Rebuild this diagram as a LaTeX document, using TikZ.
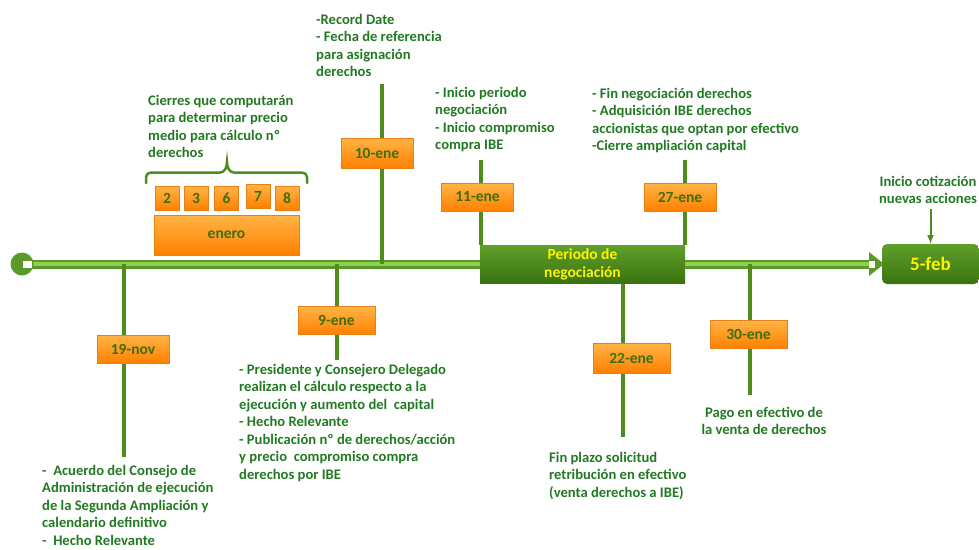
\documentclass[tikz,border=0pt]{standalone}
\usepackage{fontspec}
\setmainfont{Carlito}
\usetikzlibrary{positioning}
\definecolor{txtgreen}{HTML}{217A21}
\definecolor{stemgreen}{HTML}{4E8C1E}
\definecolor{axisdark}{HTML}{5A9A2A}
\definecolor{axislight}{HTML}{8FD14F}
\definecolor{boxtop}{HTML}{FFB445}
\definecolor{boxbot}{HTML}{FF8000}
\definecolor{boxedge}{HTML}{E8801A}
\definecolor{boxtxt}{HTML}{3F6F10}
\definecolor{negtop}{HTML}{5FA02A}
\definecolor{negbot}{HTML}{3A7310}

\begin{document}
\begin{tikzpicture}[x=1pt,y=-1pt,
  txt/.style={text=txtgreen,font=\bfseries\fontsize{14.6}{17.5}\selectfont,align=left,inner sep=0pt},
  datebox/.style={draw=boxedge,top color=boxtop,bottom color=boxbot,text=boxtxt,
    font=\bfseries\fontsize{15.5}{18}\selectfont,minimum width=72pt,minimum height=28pt,inner sep=0pt},
  daybox/.style={datebox,minimum width=24pt,minimum height=24pt},
  stem/.style={draw=stemgreen,line width=4pt},
  greenbox/.style={top color=negtop,bottom color=negbot,text=yellow,align=center,inner sep=0pt}]
  \useasboundingbox (0,0) rectangle (979,549);

  % main time line
  \coordinate (axl) at (30,264);
  \coordinate (axr) at (871,264);
  \draw[line width=9pt,axisdark] (axl) -- (axr);
  \draw[line width=4pt,axislight] (axl) -- (axr);
  \node[circle,fill=axisdark,minimum size=23pt,inner sep=0pt] (start) at (22,264) {};
  \fill[white] (23,260.5) rectangle (32,267.5);
  \fill[axisdark] (869,252) -- (884,264) -- (869,276) -- cycle;
  \fill[white] (869,260.5) rectangle (875,267.5);

  % stems
  \coordinate (s19a) at (124,264); \coordinate (s19b) at (124,457);
  \coordinate (s9a) at (337,264);  \coordinate (s9b) at (337,360);
  \coordinate (s10a) at (382,84);  \coordinate (s10b) at (382,264);
  \coordinate (s11) at (481,160);
  \coordinate (s27) at (685,160);
  \coordinate (s22a) at (623,283); \coordinate (s22b) at (623,437);
  \coordinate (s30a) at (750,264); \coordinate (s30b) at (750,395);
  \draw[stem] (s19a) -- (s19b);
  \draw[stem] (s9a) -- (s9b);
  \draw[stem] (s10a) -- (s10b);
  \draw[stem] (s22a) -- (s22b);
  \draw[stem] (s30a) -- (s30b);

  \node[greenbox,minimum width=205pt,minimum height=38pt,font=\bfseries\fontsize{15.5}{18}\selectfont] (neg) at (582.5,264) {Periodo de\\negociación};
  \draw[stem] (s11) -- (s11 |- neg.north);
  \draw[stem] (s27) -- (s27 |- neg.north);
  \node[greenbox,rounded corners=5pt,minimum width=97pt,minimum height=40pt,font=\bfseries\fontsize{19}{22}\selectfont] (feb) at (930.5,264) {5-feb};

  % date boxes
  \node[datebox] (nov19) at (133,349) {19-nov};
  \node[datebox,minimum width=77pt] (ene9) at (336.5,320.5) {9-ene};
  \node[datebox,minimum height=30pt] (ene10) at (377,153) {10-ene};
  \node[datebox] (ene11) at (477.5,197) {11-ene};
  \node[datebox,minimum width=77pt,minimum height=30pt] (ene22) at (631.5,358) {22-ene};
  \node[datebox] (ene27) at (680,197) {27-ene};
  \node[datebox,minimum width=77pt] (ene30) at (748.5,334) {30-ene};

  % closing days
  \foreach \d/\x/\y in {2/167/198,3/196/198,6/226.5/198,7/258/196,8/287/198}
    \node[daybox] (d\d) at (\x,\y) {\d};
  \node[datebox,minimum width=145pt,minimum height=40pt] (enero) at (226.5,235) {enero};
  \draw[stemgreen,line width=2.5pt,line cap=round]
    (146,183) -- (146,177) to[out=90,in=180] (151,172.5) -- (220,172.5)
    to[out=0,in=-90] (227,162) to[out=-90,in=180] (234,172.5) -- (302,172.5)
    to[out=0,in=90] (307,177) -- (307,183);

  % texts
  \node[txt,anchor=north west] (cierres) at (148,95) {Cierres que computarán\\para determinar precio\\medio para cálculo nº\\derechos};
  \node[txt,anchor=north west] (record) at (316,14) {-Record Date\\- Fecha de referencia\\para asignación\\derechos};
  \node[txt,anchor=north west] (inicio) at (435,87) {- Inicio periodo\\negociación\\- Inicio compromiso\\compra IBE};
  \node[txt,anchor=north west] (fin) at (592,88) {- Fin negociación derechos\\- Adquisición IBE derechos\\accionistas que optan por efectivo\\-Cierre ampliación capital};
  \node[txt,align=center] (cot) at (928,190) {Inicio cotización\\nuevas acciones};
  \node[txt,anchor=north west] (acuerdo) at (42,465) {-\ \ Acuerdo del Consejo de\\Administración de ejecución\\de la Segunda Ampliación y\\calendario definitivo\\-\ \ Hecho Relevante};
  \node[txt,anchor=north west] (calculo) at (239,364) {- Presidente y Consejero Delegado\\realizan el cálculo respecto a la\\ejecución y aumento del\ \ capital\\- Hecho Relevante\\- Publicación nº de derechos/acción\\y precio\ \ compromiso compra\\derechos por IBE};
  \node[txt,anchor=north west] (plazo) at (549,452) {Fin plazo solicitud\\retribución en efectivo\\(venta derechos a IBE)};
  \node[txt,align=center] (pago) at (764,421) {Pago en efectivo de\\la venta de derechos};

  \draw[-latex,stemgreen,line width=2pt] ([yshift=-5pt]feb.north |- cot.south) -- (feb.north);
\end{tikzpicture}
\end{document}
